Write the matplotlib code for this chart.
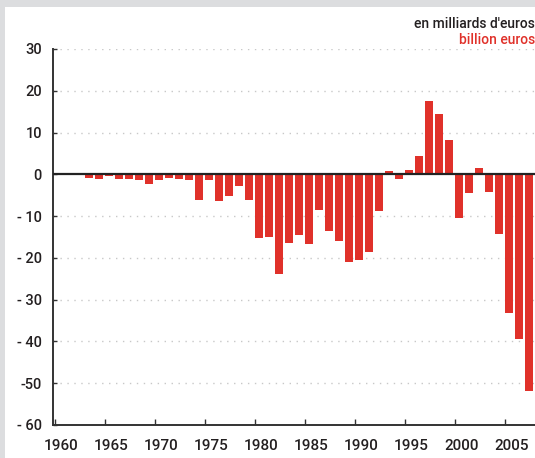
import matplotlib
matplotlib.use("Agg")
import matplotlib.pyplot as plt
from matplotlib.patches import Rectangle

years = list(range(1960, 2008))
values = [0.3, 0.3, 0.0, -0.8, -1.0, -0.5, -1.0, -1.0, -1.3, -2.2,
          -1.3, -0.8, -1.0, -1.3, -6.1, -1.3, -6.3, -5.1, -2.9, -6.1,
          -15.3, -15.0, -23.9, -16.4, -14.6, -16.7, -8.6, -13.6, -16.0, -21.0,
          -20.5, -18.6, -8.8, 0.9, -1.0, 1.1, 4.4, 17.5, 14.4, 8.3,
          -10.5, -4.5, 1.6, -4.3, -14.3, -33.3, -39.5, -51.9]
ytick_values = [30, 20, 10, 0, -10, -20, -30, -40, -50, -60]
ytick_labels = ['30', '20', '10', '0', '- 10', '- 20', '- 30', '- 40', '-50', '- 60']
xtick_years = [1960, 1965, 1970, 1975, 1980, 1985, 1990, 1995, 2000, 2005]
title_fr = "en milliards d'euros"
title_en = "billion euros"

plt.rcParams['font.family'] = ['Roboto', 'DejaVu Sans']
plt.rcParams['font.weight'] = 'medium'

W, H = 535, 458
fig = plt.figure(figsize=(W / 100, H / 100), dpi=100, facecolor='#dcdddf')
fig.patches.append(Rectangle((5 / W, 0), 1, 1 - 7 / H, transform=fig.transFigure,
                             facecolor='white', edgecolor='none', zorder=-10))

ax = fig.add_axes([53 / W, 33 / H, (W - 53) / W, 376 / H])
ax.set_zorder(1)
ax.set_facecolor('none')
ax.bar(years, values, width=0.8, align='edge', color='#e0312a', zorder=3)
ax.set_xlim(1959.85, 2008.0)
ax.set_ylim(-60, 30)

for v in ytick_values:
    if v not in (0, -60):
        ax.axhline(v, color='#c8c8c8', lw=1.0, ls=(0, (1, 4)), zorder=1)
ax.axhline(0, color='#222222', lw=1.6, zorder=5)

for s in ['top', 'right']:
    ax.spines[s].set_visible(False)
for s in ['left', 'bottom']:
    ax.spines[s].set_color('#333333')
    ax.spines[s].set_linewidth(1.4)

ax.set_yticks(ytick_values)
ax.set_yticklabels(ytick_labels, fontsize=10.5, color='#231f20')
ax.tick_params(axis='y', direction='in', length=3, width=1, color='#333333', pad=8)

ax.set_xticks(xtick_years)
ax.set_xticklabels([])
ax.tick_params(axis='x', direction='in', length=4, width=1, color='#333333')
ax.set_xticks([y + 0.65 for y in xtick_years], minor=True)
ax.set_xticklabels([str(y) for y in xtick_years], minor=True, fontsize=11, color='#231f20')
ax.tick_params(axis='x', which='minor', length=0, pad=10)

fig.text(1.0, 1 - 28 / H, title_fr, ha='right', va='baseline', fontsize=10, color='#231f20')
fig.text(1.0, 1 - 44 / H, title_en, ha='right', va='baseline', fontsize=10, color='#e0312a')

fig.savefig('out.png', dpi=100, facecolor=fig.get_facecolor())
